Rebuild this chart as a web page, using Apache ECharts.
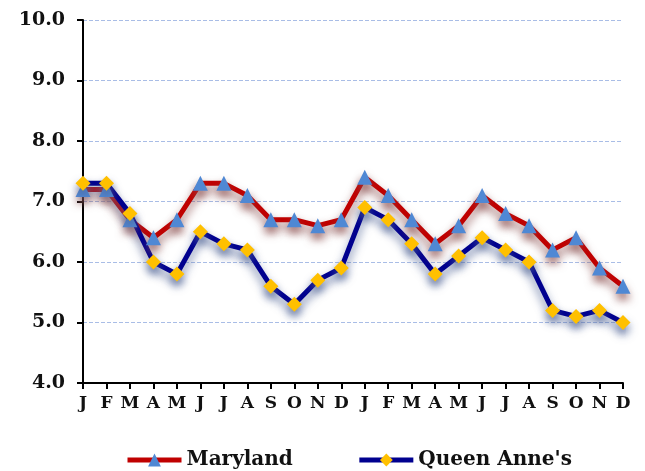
<!DOCTYPE html>
<html>
<head>
<meta charset="utf-8">
<script src="https://cdn.jsdelivr.net/npm/echarts@6/dist/echarts.min.js"></script>
<style>
  html, body { margin: 0; padding: 0; background: #fff; }
  #chart { width: 645px; height: 471px; }
</style>
</head>
<body>
<div id="chart"></div>
<script>
// 月份（两年）
var months = ["J", "F", "M", "A", "M", "J", "J", "A", "S", "O", "N", "D",
              "J", "F", "M", "A", "M", "J", "J", "A", "S", "O", "N", "D"];
// 失业率
var maryland = [7.2, 7.2, 6.7, 6.4, 6.7, 7.3, 7.3, 7.1, 6.7, 6.7, 6.6, 6.7,
                7.4, 7.1, 6.7, 6.3, 6.6, 7.1, 6.8, 6.6, 6.2, 6.4, 5.9, 5.6];
var queenAnnes = [7.3, 7.3, 6.8, 6.0, 5.8, 6.5, 6.3, 6.2, 5.6, 5.3, 5.7, 5.9,
                  6.9, 6.7, 6.3, 5.8, 6.1, 6.4, 6.2, 6.0, 5.2, 5.1, 5.2, 5.0];
var yMin = 4, yMax = 10, yStep = 1;

(function () {
    var myChart = echarts.init(document.getElementById("chart"));
    var font = "'DejaVu Serif', serif";

    function lineSeries(name, data, lineColor, symbol, symbolColor, shadow) {
        return {
            name: name,
            type: "line",
            data: data,
            symbol: symbol,
            symbolSize: 15,
            lineStyle: {
                color: lineColor,
                width: 5,
                shadowColor: shadow,
                shadowBlur: 10,
                shadowOffsetY: 6
            },
            itemStyle: {
                color: symbolColor,
                borderWidth: 0,
                shadowColor: shadow,
                shadowBlur: 8,
                shadowOffsetY: 6
            },
            emphasis: { disabled: true },
            animation: false
        };
    }

    var option = {
        animation: false,
        grid: { left: 83, right: 22, top: 20, bottom: 88 },
        legend: {
            left: 120,
            top: 445,
            itemWidth: 54,
            itemHeight: 16,
            itemGap: 64,
            lineStyle: { width: 5, shadowBlur: 0 },
            itemStyle: { shadowBlur: 0 },
            textStyle: { fontFamily: font, fontWeight: "bold", fontSize: 20, color: "#111" },
            data: ["Maryland", "Queen Anne's"]
        },
        xAxis: {
            type: "category",
            data: months,
            boundaryGap: false,
            axisLine: { lineStyle: { color: "#000", width: 2 } },
            axisTick: { show: true, length: 6, alignWithLabel: true, lineStyle: { color: "#000", width: 2 } },
            axisLabel: { interval: 0, margin: 12, fontFamily: font, fontWeight: "bold", fontSize: 17, color: "#111" },
            splitLine: { show: false }
        },
        yAxis: {
            type: "value",
            min: yMin,
            max: yMax,
            interval: yStep,
            axisLine: { show: true, lineStyle: { color: "#000", width: 2 } },
            axisTick: { show: true, length: 6, lineStyle: { color: "#000", width: 2 } },
            axisLabel: {
                margin: 18,
                fontFamily: font, fontWeight: "bold", fontSize: 19, color: "#111",
                formatter: function (v) { return v.toFixed(1); }
            },
            splitLine: { lineStyle: { color: "#a9bde6", type: "dashed", width: 1 } }
        },
        series: [
            lineSeries("Maryland", maryland, "#c00000", "triangle", "#4f88d4", "rgba(140,80,80,0.8)"),
            lineSeries("Queen Anne's", queenAnnes, "#00008f", "diamond", "#ffc000", "rgba(80,100,150,0.8)")
        ]
    };
    myChart.setOption(option);
    window.addEventListener("resize", function () {
        myChart.resize();
    });
})();
</script>
</body>
</html>
